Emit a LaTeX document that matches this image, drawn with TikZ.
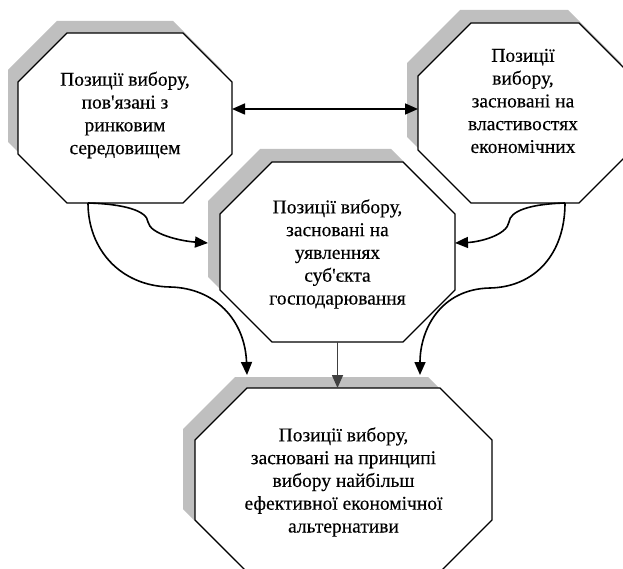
\documentclass[tikz,border=0pt]{standalone}
\usepackage{fontspec}
\setmainfont{Liberation Serif}
\newfontfamily\serf[FakeBold=0.3]{Liberation Serif}
\usetikzlibrary{calc,arrows.meta}
\definecolor{shade}{gray}{0.75}
\newcommand{\ap}{{\char39}}
\newcommand{\octo}[4]{%
 ($(#1.north west)+(#2,0pt)+(-#3,#4)$) -- ($(#1.north east)+(-#2,0pt)+(-#3,#4)$) --
 ($(#1.north east)+(0pt,-#2)+(-#3,#4)$) -- ($(#1.south east)+(0pt,#2)+(-#3,#4)$) --
 ($(#1.south east)+(-#2,0pt)+(-#3,#4)$) -- ($(#1.south west)+(#2,0pt)+(-#3,#4)$) --
 ($(#1.south west)+(0pt,#2)+(-#3,#4)$) -- ($(#1.north west)+(0pt,-#2)+(-#3,#4)$) -- cycle}
\begin{document}
\begin{tikzpicture}[x=1pt,y=-1pt,
  box/.style={inner sep=0pt,outer sep=0pt,draw=none},
  txt/.style={inner sep=0pt,align=center,font=\serf\fontsize{19.5}{22.8}\selectfont},
  outl/.style={fill=white,draw=black,line width=1.3pt,line join=miter},
  shad/.style={fill=shade,draw=none},
  arr/.style={line width=1.6pt,-{Triangle[length=13pt,width=11pt]}},
  dbl/.style={line width=1.6pt,{Triangle[length=13pt,width=11pt]}-{Triangle[length=13pt,width=11pt]}}]
\useasboundingbox (0,0) rectangle (623,569);
% geometry nodes
\node[box,minimum width=214pt,minimum height=170pt] (A) at (125,118) {};
\node[box,minimum width=214pt,minimum height=180pt] (B) at (525,113) {};
\node[box,minimum width=235pt,minimum height=180pt] (C) at (337.5,252) {};
\node[box,minimum width=297pt,minimum height=184pt] (D) at (343.5,480) {};
% shadows
\fill[shad] \octo{A}{49pt}{10pt}{12pt};
\fill[shad] \octo{B}{53pt}{11pt}{13pt};
\fill[shad] \octo{C}{52pt}{12pt}{13pt};
\fill[shad] \octo{D}{52pt}{12pt}{11pt};
% outlines
\filldraw[outl] \octo{A}{49pt}{0pt}{0pt};
\filldraw[outl] \octo{B}{53pt}{0pt}{0pt};
\filldraw[outl] \octo{C}{52pt}{0pt}{0pt};
\filldraw[outl] \octo{D}{52pt}{0pt}{0pt};
% texts
\node[txt] (At) at (125,115) {Позиції вибору,\\пов\ap язані з\\ринковим\\середовищем};
\node[txt] (Bt) at (523,101) {Позиції\\вибору,\\засновані на\\властивостях\\економічних};
\node[txt] (Ct) at (337.5,254) {Позиції вибору,\\засновані на\\уявленнях\\суб\ap єкта\\господарювання};
\node[txt] (Dt) at (343.5,482) {Позиції вибору,\\засновані на принципі\\вибору найбільш\\ефективної економічної\\альтернативи};
% connector points
\coordinate (Aout) at ($(A.south)+(-37pt,0pt)$);
\coordinate (Bout) at ($(B.south)+(40pt,0pt)$);
\coordinate (Cin1) at ($(C.west)+(-12pt,9pt)$);
\coordinate (Cin2) at ($(C.east)+(0pt,9pt)$);
\coordinate (Din1) at ($(D.north)+(-96.5pt,13pt)$);
\coordinate (Din2) at ($(D.north)+(76.5pt,13pt)$);
\coordinate (m1) at ($(Aout)+(60pt,-19pt)$);
\coordinate (m2) at ($(Aout)+(82pt,-84pt)$);
\coordinate (m3) at ($(Bout)+(-56pt,-19pt)$);
\coordinate (m4) at ($(Bout)+(-75pt,-85pt)$);
\coordinate (h1) at ($(A.east)+(0pt,9pt)$);
% connectors
\draw[dbl] (h1) -- (h1 -| B.west);
\draw[arr] (Aout) .. controls +(37pt,-1pt) and +(-1pt,11pt) .. (m1) .. controls +(2pt,-12pt) and +(-28pt,2pt) .. (Cin1);
\draw[arr] (Aout) .. controls +(0pt,-46pt) and +(-50pt,1pt) .. (m2) .. controls +(45pt,-1pt) and +(-2pt,55pt) .. (Din1);
\draw[arr] (Bout) .. controls +(-35pt,-1pt) and +(1pt,11pt) .. (m3) .. controls +(-2pt,-13pt) and +(25pt,1pt) .. (Cin2);
\draw[arr] (Bout) .. controls +(0pt,-51pt) and +(45pt,1pt) .. (m4) .. controls +(-50pt,-1pt) and +(0pt,45pt) .. (Din2);
\draw[arr,draw=black!75] (C.south) -- (C.south |- D.north);
\end{tikzpicture}
\end{document}
